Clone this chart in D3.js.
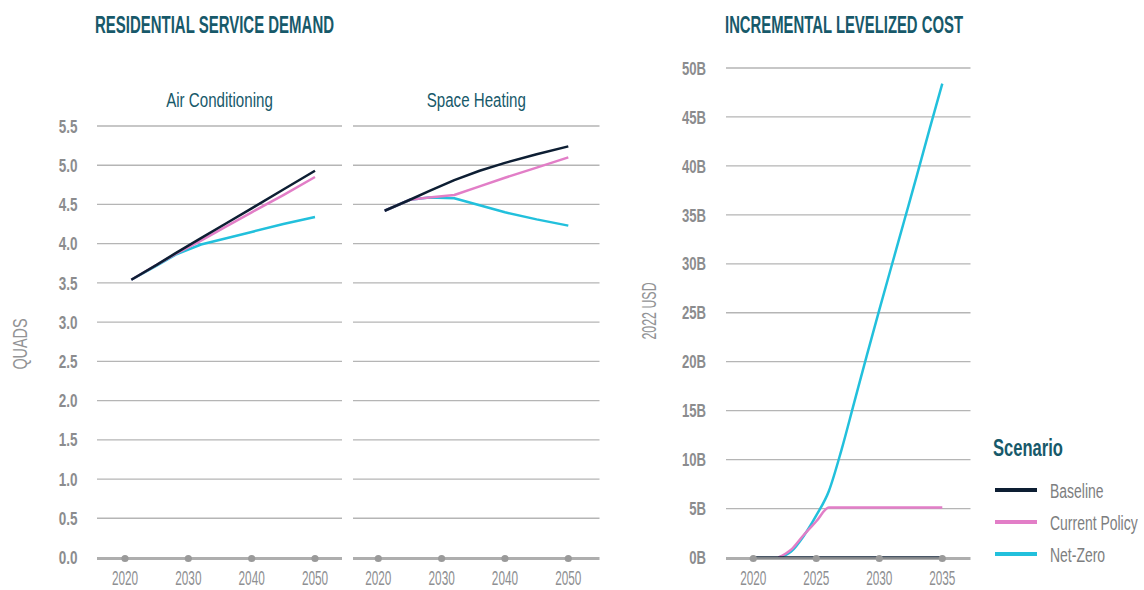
<!DOCTYPE html>
<html>
<head>
<meta charset="utf-8">
<script src="https://cdn.jsdelivr.net/npm/d3@7"></script>
<style>
  html, body { margin: 0; padding: 0; background: #ffffff; }
  svg { display: block; }
  text { font-family: 'Liberation Sans', Arial, sans-serif; }
</style>
</head>
<body>
<svg id="chart" width="1144" height="590"></svg>
<script>
// ---- Residential service demand (quads) ----
const demandYears = [2021, 2025, 2028, 2032, 2036, 2040, 2045, 2050];
const acBaseline      = [3.54, 3.73, 3.88, 4.07, 4.26, 4.45, 4.69, 4.93];
const acCurrentPolicy = [3.54, 3.73, 3.87, 4.04, 4.22, 4.40, 4.62, 4.85];
const acNetZero       = [3.54, 3.72, 3.86, 3.99, 4.07, 4.15, 4.25, 4.34];
const shBaseline      = [4.42, 4.56, 4.67, 4.81, 4.93, 5.03, 5.14, 5.24];
const shCurrentPolicy = [4.42, 4.56, 4.59, 4.62, 4.73, 4.84, 4.97, 5.10];
const shNetZero       = [4.42, 4.56, 4.59, 4.58, 4.49, 4.40, 4.31, 4.23];
const demandTicks = [0, 0.5, 1, 1.5, 2, 2.5, 3, 3.5, 4, 4.5, 5, 5.5];
const demandYearTicks = [2020, 2030, 2040, 2050];
const facetNames = ["Air Conditioning", "Space Heating"];

// ---- Incremental levelized cost (billion 2022 USD) ----
const costYears = [2020, 2021, 2022, 2023, 2024, 2025, 2026, 2027, 2028, 2029, 2030, 2031, 2032, 2033, 2034, 2035];
const costBaseline      = [0, 0, 0, 0, 0, 0, 0, 0, 0, 0, 0, 0, 0, 0, 0, 0];
const costCurrentPolicy = [null, null, 0, 0.8, 2.3, 3.7, 5.1, 5.1, 5.1, 5.1, 5.1, 5.1, 5.1, 5.1, 5.1, 5.1];
const costNetZero       = [null, null, 0, 0.6, 2.2, 4.3, 6.8, 11.0, 15.8, 20.6, 25.3, 29.9, 34.5, 39.1, 43.8, 48.4];
const costTicks = [0, 5, 10, 15, 20, 25, 30, 35, 40, 45, 50];
const costYearTicks = [2020, 2025, 2030, 2035];

const scenarios = ["Baseline", "Current Policy", "Net-Zero"];
const scenarioColors = ["#0d1e33", "#e27ec7", "#22c0dc"];

const TEAL = "#17596a";
const GREY_TEXT = "#8b8c8e";
const GRID = "#b5b5b5";
const AXIS = "#9a9a9a";

const svg = d3.select("#chart");
const color = d3.scaleOrdinal().domain(scenarios).range(scenarioColors);

// Condensed lettering: regular glyphs squeezed horizontally inside a group
function label(parent, o) {
  const g = parent.append("g")
    .attr("transform", `translate(${o.x},${o.y})` + (o.rotate ? ` rotate(${o.rotate})` : "") + ` scale(${o.sx || 1},1)`);
  g.append("text")
    .attr("text-anchor", o.anchor || "start")
    .attr("dy", o.dy || null)
    .attr("fill", o.fill || GREY_TEXT)
    .attr("font-size", o.size)
    .attr("font-weight", o.weight || "normal")
    .text(o.text);
  return g;
}

// Left block geometry
const plotTop = 126, plotBottom = 557.5;
const yDemand = d3.scaleLinear().domain([0, 5.5]).range([plotBottom, plotTop]);
const panels = [
  { name: facetNames[0], x0: 97, x1: 342, r0: 125, r1: 315,
    series: [acBaseline, acCurrentPolicy, acNetZero] },
  { name: facetNames[1], x0: 353, x1: 599.5, r0: 378.3, r1: 568.3,
    series: [shBaseline, shCurrentPolicy, shNetZero] }
];

function drawGrid(g, ticks, y, x0, x1) {
  g.selectAll("line.grid").data(ticks.filter(t => t !== 0)).join("line")
    .attr("class", "grid")
    .attr("x1", x0).attr("x2", x1)
    .attr("y1", d => y(d)).attr("y2", d => y(d))
    .attr("stroke", GRID).attr("stroke-width", 1.3);
}

function drawBottomAxis(g, x, y, ticks, x0, x1) {
  g.append("line")
    .attr("x1", x0).attr("x2", x1)
    .attr("y1", y(0) + 1).attr("y2", y(0) + 1)
    .attr("stroke", AXIS).attr("stroke-width", 3.2).attr("opacity", 0.8);
  g.selectAll("circle.tick").data(ticks).join("circle")
    .attr("class", "tick")
    .attr("cx", d => x(d)).attr("cy", y(0) + 1).attr("r", 3.6)
    .attr("fill", AXIS);
  ticks.forEach(t => label(g, { x: x(t), y: 585, text: t, size: 20, sx: 0.59, anchor: "middle", fill: "#8e8f92" }));
}

// Titles
svg.append("text").attr("x", 95).attr("y", 33)
  .attr("fill", TEAL).attr("font-size", 23.5).attr("font-weight", "bold")
  .attr("textLength", 239).attr("lengthAdjust", "spacingAndGlyphs")
  .text("RESIDENTIAL SERVICE DEMAND");
svg.append("text").attr("x", 725).attr("y", 33)
  .attr("fill", TEAL).attr("font-size", 23.5).attr("font-weight", "bold")
  .attr("textLength", 238).attr("lengthAdjust", "spacingAndGlyphs")
  .text("INCREMENTAL LEVELIZED COST");

// Y axis labels (left block)
const leftG = svg.append("g");
demandTicks.forEach(t => label(leftG, {
  x: 77.5, y: yDemand(t), dy: "0.36em", text: d3.format(".1f")(t),
  size: 18.5, weight: "bold", sx: 0.73, anchor: "end"
}));
label(svg, { x: 26.5, y: 344, rotate: -90, text: "QUADS", size: 20, sx: 0.72, anchor: "middle", fill: "#929395" });

// Facet panels
panels.forEach(p => {
  const g = svg.append("g");
  const x = d3.scaleLinear().domain([2020, 2050]).range([p.r0, p.r1]);
  drawGrid(g, demandTicks, yDemand, p.x0, p.x1);
  label(g, { x: (p.x0 + p.x1) / 2, y: 107, text: p.name, size: 21, sx: 0.72, anchor: "middle", fill: TEAL });
  const line = d3.line()
    .x((d, i) => x(demandYears[i]))
    .y(d => yDemand(d));
  // Net-Zero underneath, Baseline on top
  [2, 1, 0].forEach(k => {
    g.append("path")
      .datum(p.series[k])
      .attr("d", line)
      .attr("fill", "none")
      .attr("stroke", color(scenarios[k]))
      .attr("stroke-width", 2.5)
      .attr("stroke-linejoin", "round");
  });
  drawBottomAxis(g, x, yDemand, demandYearTicks, p.x0, p.x1);
});

// Right chart
const yCost = d3.scaleLinear().domain([0, 50]).range([plotBottom, 68]);
const xCost = d3.scaleLinear().domain([2020, 2035]).range([753.3, 942.3]);
const rightG = svg.append("g");
drawGrid(rightG, costTicks, yCost, 726, 970.5);
costTicks.forEach(t => label(rightG, {
  x: 706, y: yCost(t), dy: "0.36em", text: t + "B",
  size: 18.5, weight: "bold", sx: 0.71, anchor: "end"
}));
label(svg, { x: 655.5, y: 311, rotate: -90, text: "2022 USD", size: 20, sx: 0.62, anchor: "middle", fill: "#929395" });

const costLine = d3.line()
  .defined(d => d != null)
  .x((d, i) => xCost(costYears[i]))
  .y(d => yCost(d))
  .curve(d3.curveMonotoneX);
const costSeries = [costBaseline, costCurrentPolicy, costNetZero];
[2, 1, 0].forEach(k => {
  rightG.append("path")
    .datum(costSeries[k])
    .attr("d", costLine)
    .attr("fill", "none")
    .attr("stroke", color(scenarios[k]))
    .attr("stroke-width", 2.5)
    .attr("stroke-linejoin", "round");
});
drawBottomAxis(rightG, xCost, yCost, costYearTicks, 726, 970.5);

// Legend
const legend = svg.append("g");
label(legend, { x: 993, y: 456, text: "Scenario", size: 23, weight: "bold", sx: 0.72, fill: TEAL });
scenarios.forEach((s, i) => {
  const cy = 490 + i * 32;
  legend.append("line")
    .attr("x1", 995).attr("x2", 1037).attr("y1", cy).attr("y2", cy)
    .attr("stroke", color(s)).attr("stroke-width", 4);
  label(legend, { x: 1050, y: cy, dy: "0.36em", text: s, size: 21, sx: 0.665, fill: "#7d7e80" });
});
</script>
</body>
</html>
